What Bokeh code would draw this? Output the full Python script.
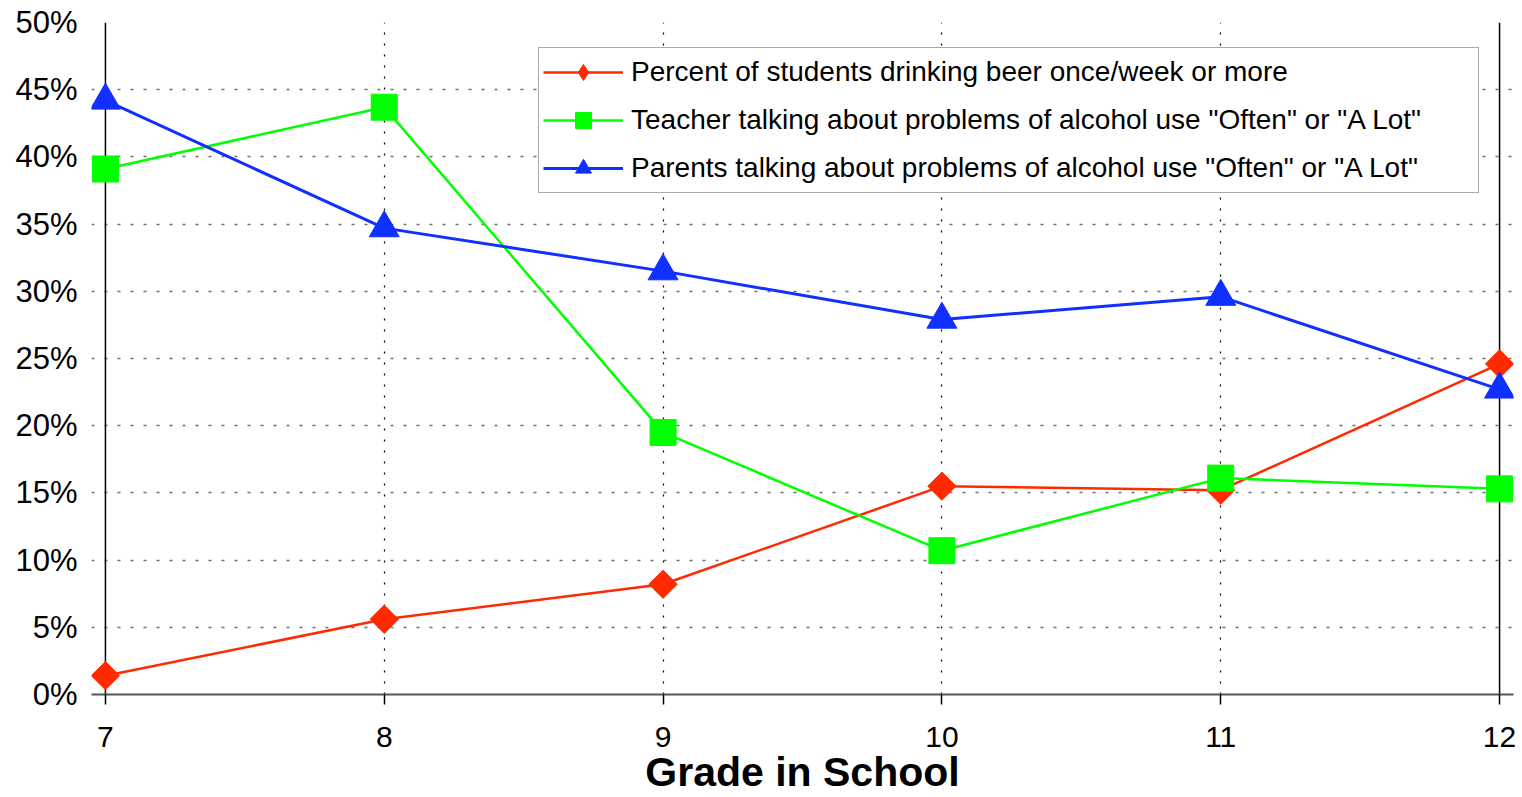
import math
from bokeh.plotting import figure
from bokeh.models import Range1d, FixedTicker, Span, PrintfTickFormatter, Legend, LegendItem
from bokeh.embed import file_html
from bokeh.resources import INLINE

# ---- data ----
grades = [7, 8, 9, 10, 11, 12]
beer_pct = [1.4, 5.6, 8.2, 15.5, 15.2, 24.6]
teacher_pct = [39.1, 43.7, 19.5, 10.7, 16.1, 15.3]
parents_pct = [44.2, 34.7, 31.5, 27.9, 29.6, 22.7]
y_ticks = [0, 5, 10, 15, 20, 25, 30, 35, 40, 45, 50]
x_ticks = [7, 8, 9, 10, 11, 12]
inner_x_grid = [8, 9, 10, 11]
x_title = "Grade in School"
label_beer = "Percent of students drinking beer once/week or more"
label_teacher = 'Teacher talking about problems of alcohol use "Often" or "A Lot"'
label_parents = 'Parents talking about problems of alcohol use "Often" or "A Lot"'

FONT = "Liberation Sans"
RED = "#ff2a00"
GREEN = "#00ff00"
BLUE = "#1030ff"

p = figure(width=1522, height=797, output_backend="svg", toolbar_location=None,
           x_range=Range1d(6.95, 12.05), y_range=Range1d(0, 50),
           min_border_left=91, min_border_right=9, min_border_top=22,
           min_border_bottom=102)
p.outline_line_color = None
p.background_fill_color = "white"
p.border_fill_color = "white"

# grids
p.ygrid.ticker = FixedTicker(ticks=y_ticks)
p.ygrid.grid_line_color = "#707070"
p.ygrid.grid_line_dash = "3 10"
p.ygrid.grid_line_width = 1.5
p.xgrid.ticker = FixedTicker(ticks=inner_x_grid)
p.xgrid.grid_line_color = "black"
p.xgrid.grid_line_dash = "2 9"
p.xgrid.grid_line_width = 1.2

# frame lines at the ends of the x range
for loc in (x_ticks[0], x_ticks[-1]):
    p.add_layout(Span(location=loc, dimension="height", line_color="black",
                      line_width=1.5, level="underlay"))

# y axis
p.yaxis.ticker = FixedTicker(ticks=y_ticks)
p.yaxis.formatter = PrintfTickFormatter(format="%d%%")
p.yaxis.axis_line_color = None
p.yaxis.major_tick_out = 0
p.yaxis.major_tick_in = 0
p.yaxis.minor_tick_line_color = None
p.yaxis.major_label_standoff = 14
p.yaxis.major_label_text_font = FONT
p.yaxis.major_label_text_font_size = "31px"
p.yaxis.major_label_text_color = "black"

# x axis
p.xaxis.ticker = FixedTicker(ticks=x_ticks)
p.xaxis.axis_line_color = "#555555"
p.xaxis.axis_line_width = 2
p.xaxis.major_tick_out = 10
p.xaxis.major_tick_in = 0
p.xaxis.major_tick_line_color = "black"
p.xaxis.major_tick_line_width = 1.5
p.xaxis.minor_tick_line_color = None
p.xaxis.major_label_standoff = 22
p.xaxis.major_label_text_font = FONT
p.xaxis.major_label_text_font_size = "30px"
p.xaxis.major_label_text_color = "black"
p.xaxis.axis_label = x_title
p.xaxis.axis_label_text_font = FONT
p.xaxis.axis_label_text_font_size = "41px"
p.xaxis.axis_label_text_font_style = "bold"
p.xaxis.axis_label_text_color = "black"
p.xaxis.axis_label_standoff = -1

# series
r_beer_line = p.line(grades, beer_pct, line_color=RED, line_width=2.5)
# diamond key (drawn underneath the rotated squares, used for the legend key)
r_beer_key = p.scatter(grades, beer_pct, marker="diamond", size=20,
                       fill_color=RED, line_color=RED)
p.scatter(grades, beer_pct, marker="square", angle=math.pi / 4, size=20,
          fill_color=RED, line_color=RED)
r_teacher_line = p.line(grades, teacher_pct, line_color=GREEN, line_width=2.5)
r_teacher_pts = p.scatter(grades, teacher_pct, marker="square", size=26,
                          fill_color=GREEN, line_color=GREEN)
r_parents_line = p.line(grades, parents_pct, line_color=BLUE, line_width=3)
r_parents_pts = p.scatter(grades, parents_pct, marker="triangle", size=30,
                          fill_color=BLUE, line_color=BLUE)

lg = Legend(items=[
    LegendItem(label=label_beer, renderers=[r_beer_line, r_beer_key]),
    LegendItem(label=label_teacher, renderers=[r_teacher_line, r_teacher_pts]),
    LegendItem(label=label_parents, renderers=[r_parents_line, r_parents_pts]),
])
lg.location = (447, 501)
lg.padding = 4
lg.margin = 0
lg.glyph_width = 80
lg.glyph_height = 40
lg.label_height = 40
lg.label_width = 843
lg.label_standoff = 8
lg.spacing = 8
lg.label_text_font = FONT
lg.label_text_font_size = "28px"
lg.label_text_color = "black"
lg.border_line_color = "#555555"
lg.border_line_width = 1.5
lg.background_fill_color = "white"
lg.background_fill_alpha = 1.0
p.add_layout(lg, "center")

open("out.html", "w").write(file_html(p, INLINE))
